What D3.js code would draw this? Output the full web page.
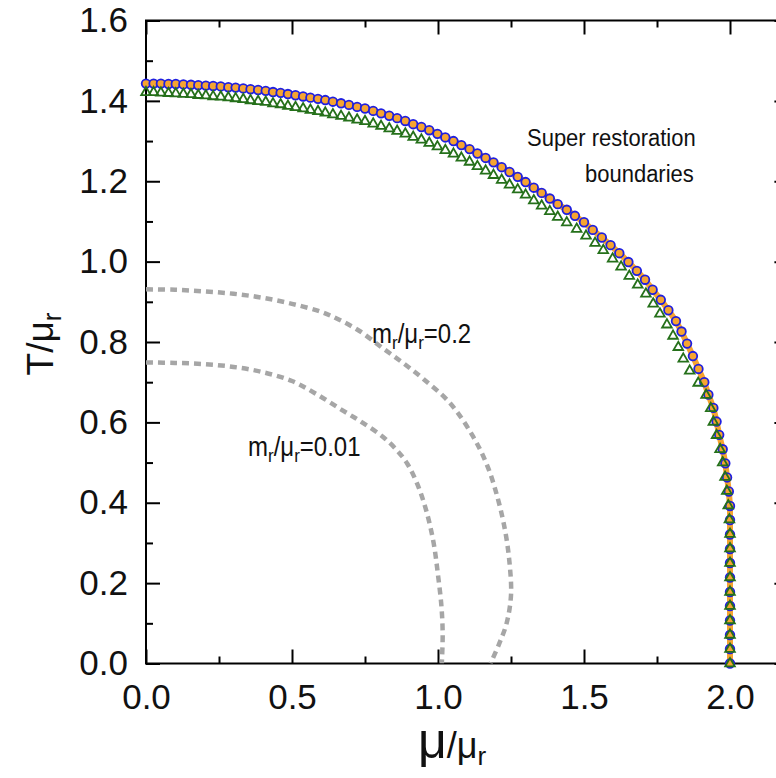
<!DOCTYPE html>
<html>
  <head>
    <script src="https://d3js.org/d3.v7.min.js"></script>
    <style>
      body { margin: 0; background: #fff; }
      svg { display: block; font-family: "Liberation Sans", Arial, sans-serif; }
    </style>
  </head>
  <body>
    <svg id="chart"></svg>
    <script>
      // blue circles (and the orange line through them): [mu/mu_r, T/mu_r]
      var circlePts = [
        [0, 1.443], [0.026, 1.443], [0.051, 1.443], [0.077, 1.442], [0.102, 1.442],
        [0.128, 1.441], [0.154, 1.44], [0.179, 1.439], [0.205, 1.438], [0.23, 1.437],
        [0.256, 1.436], [0.282, 1.434], [0.307, 1.433], [0.333, 1.431], [0.358, 1.429],
        [0.384, 1.427], [0.41, 1.425], [0.435, 1.422], [0.461, 1.42], [0.486, 1.417],
        [0.512, 1.414], [0.538, 1.411], [0.563, 1.408], [0.589, 1.405], [0.614, 1.402],
        [0.64, 1.398], [0.668, 1.394], [0.695, 1.39], [0.723, 1.385], [0.75, 1.381],
        [0.778, 1.375], [0.805, 1.369], [0.833, 1.363], [0.86, 1.357], [0.888, 1.35],
        [0.915, 1.342], [0.943, 1.335], [0.97, 1.327], [0.998, 1.318], [1.025, 1.309],
        [1.053, 1.3], [1.08, 1.29], [1.108, 1.28], [1.135, 1.269], [1.163, 1.258],
        [1.19, 1.247], [1.218, 1.235], [1.245, 1.223], [1.273, 1.211], [1.3, 1.198],
        [1.328, 1.184], [1.355, 1.171], [1.383, 1.157], [1.41, 1.143], [1.441, 1.129],
        [1.469, 1.114], [1.5, 1.098], [1.53, 1.079], [1.561, 1.06], [1.591, 1.041],
        [1.621, 1.021], [1.652, 0.999], [1.681, 0.977], [1.709, 0.955], [1.735, 0.93],
        [1.763, 0.905], [1.789, 0.879], [1.815, 0.852], [1.834, 0.826], [1.853, 0.796],
        [1.873, 0.765], [1.892, 0.733], [1.912, 0.7], [1.926, 0.669], [1.943, 0.636],
        [1.954, 0.602], [1.963, 0.569], [1.975, 0.533], [1.984, 0.498], [1.99, 0.463],
        [1.996, 0.428], [2.0, 0.392], [2.0, 0.357], [2.0, 0.321], [2.0, 0.285],
        [2.0, 0.25], [2.0, 0.214], [2.0, 0.178], [2.0, 0.143], [2.0, 0.107],
        [2.0, 0.071], [2.0, 0.036], [2.0, 0]
      ];

      // green triangles
      var trianglePts = [
        [0, 1.421], [0.026, 1.421], [0.051, 1.42], [0.077, 1.419], [0.102, 1.418],
        [0.128, 1.417], [0.154, 1.416], [0.179, 1.414], [0.205, 1.413], [0.23, 1.411],
        [0.256, 1.41], [0.282, 1.408], [0.307, 1.406], [0.333, 1.404], [0.358, 1.401],
        [0.384, 1.399], [0.41, 1.397], [0.435, 1.393], [0.461, 1.391], [0.486, 1.387],
        [0.512, 1.384], [0.538, 1.381], [0.563, 1.377], [0.589, 1.374], [0.614, 1.37],
        [0.64, 1.366], [0.668, 1.362], [0.695, 1.358], [0.723, 1.353], [0.75, 1.349],
        [0.778, 1.343], [0.805, 1.337], [0.833, 1.331], [0.86, 1.325], [0.888, 1.318],
        [0.915, 1.31], [0.943, 1.303], [0.97, 1.295], [0.998, 1.286], [1.025, 1.277],
        [1.053, 1.268], [1.08, 1.258], [1.108, 1.248], [1.135, 1.237], [1.163, 1.226],
        [1.19, 1.215], [1.218, 1.203], [1.245, 1.191], [1.273, 1.179], [1.3, 1.166],
        [1.328, 1.152], [1.355, 1.139], [1.383, 1.125], [1.41, 1.111], [1.441, 1.097],
        [1.475, 1.081], [1.507, 1.064], [1.538, 1.046], [1.566, 1.028], [1.598, 1.007],
        [1.627, 0.987], [1.655, 0.964], [1.684, 0.942], [1.712, 0.92], [1.737, 0.895],
        [1.76, 0.87], [1.784, 0.843], [1.805, 0.815], [1.823, 0.787], [1.84, 0.758],
        [1.862, 0.728], [1.891, 0.698], [1.918, 0.668], [1.934, 0.635], [1.943, 0.601],
        [1.954, 0.568], [1.966, 0.533], [1.975, 0.5], [1.983, 0.464], [1.989, 0.429],
        [1.994, 0.393], [1.998, 0.358], [2.0, 0.322], [2.0, 0.286], [2.0, 0.25],
        [2.0, 0.214], [2.0, 0.178], [2.0, 0.143], [2.0, 0.107], [2.0, 0.071],
        [2.0, 0.036], [2.0, 0]
      ];

      // grey dotted curves
      var dash02 = [
        [0, 0.931], [0.1, 0.93], [0.2, 0.926], [0.3, 0.92], [0.4, 0.91], [0.5, 0.895],
        [0.6, 0.875], [0.66, 0.856], [0.73, 0.828], [0.81, 0.785], [0.88, 0.748],
        [0.95, 0.708], [1.04, 0.649], [1.12, 0.565], [1.17, 0.49], [1.205, 0.41],
        [1.23, 0.33], [1.245, 0.25], [1.25, 0.17], [1.235, 0.1], [1.21, 0.05], [1.18, 0]
      ];
      var dash001 = [
        [0, 0.749], [0.1, 0.748], [0.2, 0.745], [0.3, 0.738], [0.4, 0.725], [0.5, 0.703],
        [0.58, 0.672], [0.664, 0.634], [0.74, 0.6], [0.813, 0.563], [0.86, 0.53],
        [0.895, 0.497], [0.93, 0.445], [0.96, 0.38], [0.985, 0.3], [1.0, 0.22],
        [1.012, 0.14], [1.016, 0.07], [1.013, 0]
      ];

      var xMajor = [0, 0.5, 1.0, 1.5, 2.0];
      var xMinor = [0.25, 0.75, 1.25, 1.75];
      var yMajor = [0, 0.2, 0.4, 0.6, 0.8, 1.0, 1.2, 1.4, 1.6];
      var yMinor = [0.1, 0.3, 0.5, 0.7, 0.9, 1.1, 1.3, 1.5];

      var W = 776, H = 778;
      var svg = d3.select("#chart").attr("width", W).attr("height", H);

      var x = d3.scaleLinear().domain([0, 2.2]).range([146, 788.4]);
      var y = d3.scaleLinear().domain([0, 1.6]).range([663.5, 20.5]);

      svg.append("clipPath").attr("id", "plot")
        .append("rect")
        .attr("x", x(0)).attr("y", y(1.6))
        .attr("width", x(2.2) - x(0)).attr("height", y(0) - y(1.6));

      // axes, ticks pointing inward on all four sides
      function styleAxis(g) {
        g.select(".domain").remove();
        g.selectAll(".tick line").attr("stroke", "#000").attr("stroke-width", 2);
        g.selectAll(".tick text")
          .attr("fill", "#111")
          .attr("font-size", 35)
          .attr("font-family", "Liberation Sans, Arial, sans-serif");
      }

      svg.append("g")
        .attr("transform", "translate(0," + y(0) + ")")
        .call(d3.axisBottom(x).tickValues(xMajor).tickSize(-14).tickPadding(21)
          .tickFormat(d3.format(".1f")))
        .call(styleAxis);
      svg.append("g")
        .attr("transform", "translate(0," + y(0) + ")")
        .call(d3.axisBottom(x).tickValues(xMinor).tickSize(-7).tickFormat(""))
        .call(styleAxis);
      svg.append("g")
        .attr("transform", "translate(0," + y(1.6) + ")")
        .call(d3.axisTop(x).tickValues(xMajor).tickSize(-14).tickFormat(""))
        .call(styleAxis);
      svg.append("g")
        .attr("transform", "translate(0," + y(1.6) + ")")
        .call(d3.axisTop(x).tickValues(xMinor).tickSize(-7).tickFormat(""))
        .call(styleAxis);

      svg.append("g")
        .attr("transform", "translate(" + x(0) + ",0)")
        .call(d3.axisLeft(y).tickValues(yMajor).tickSize(-14).tickPadding(18)
          .tickFormat(d3.format(".1f")))
        .call(styleAxis);
      svg.append("g")
        .attr("transform", "translate(" + x(0) + ",0)")
        .call(d3.axisLeft(y).tickValues(yMinor).tickSize(-7).tickFormat(""))
        .call(styleAxis);
      svg.append("g")
        .attr("transform", "translate(" + x(2.2) + ",0)")
        .call(d3.axisRight(y).tickValues(yMajor).tickSize(-14).tickFormat(""))
        .call(styleAxis);
      svg.append("g")
        .attr("transform", "translate(" + x(2.2) + ",0)")
        .call(d3.axisRight(y).tickValues(yMinor).tickSize(-7).tickFormat(""))
        .call(styleAxis);

      // frame
      svg.append("rect")
        .attr("x", x(0)).attr("y", y(1.6))
        .attr("width", x(2.2) - x(0)).attr("height", y(0) - y(1.6))
        .attr("fill", "none")
        .attr("stroke", "#000")
        .attr("stroke-width", 2);

      var plot = svg.append("g").attr("clip-path", "url(#plot)");

      var line = d3.line()
        .x(function (d) { return x(d[0]); })
        .y(function (d) { return y(d[1]); });
      var smooth = d3.line()
        .x(function (d) { return x(d[0]); })
        .y(function (d) { return y(d[1]); })
        .curve(d3.curveCatmullRom);

      // grey dotted lines
      [dash02, dash001].forEach(function (pts) {
        plot.append("path")
          .datum(pts)
          .attr("d", smooth)
          .attr("fill", "none")
          .attr("stroke", "#a6a6a6")
          .attr("stroke-width", 4.5)
          .attr("stroke-dasharray", "7,5");
      });

      // orange line
      plot.append("path")
        .datum(circlePts)
        .attr("d", line)
        .attr("fill", "none")
        .attr("stroke", "#f6a431")
        .attr("stroke-width", 6);

      // blue circles (not clipped, like the original)
      svg.append("g").selectAll("circle")
        .data(circlePts)
        .enter()
        .append("circle")
        .attr("cx", function (d) { return x(d[0]); })
        .attr("cy", function (d) { return y(d[1]); })
        .attr("r", 4.3)
        .attr("fill", "#f6a431")
        .attr("stroke", "#1f1fe0")
        .attr("stroke-width", 1.8);

      // green triangles
      var tri = d3.symbol().type(d3.symbolTriangle).size(40);
      svg.append("g").selectAll("path")
        .data(trianglePts)
        .enter()
        .append("path")
        .attr("d", tri)
        .attr("transform", function (d) {
          return "translate(" + x(d[0]) + "," + y(d[1]) + ")";
        })
        .attr("fill", "none")
        .attr("stroke", "#25701a")
        .attr("stroke-width", 1.8);

      // axis titles
      var xt = svg.append("text")
        .attr("x", 452).attr("y", 758)
        .attr("text-anchor", "middle")
        .attr("fill", "#111");
      xt.append("tspan").attr("font-size", 50).text("\u03bc");
      xt.append("tspan").attr("font-size", 36).text("/\u03bc");
      xt.append("tspan").attr("font-size", 26).attr("dy", 7).text("r");

      var yt = svg.append("text")
        .attr("transform", "translate(53,344) rotate(-90)")
        .attr("text-anchor", "middle")
        .attr("fill", "#111")
        .attr("font-size", 37);
      yt.append("tspan").text("T/\u03bc");
      yt.append("tspan").attr("font-size", 26).attr("dy", 8).text("r");

      // annotations (slightly taller glyphs, as in the original)
      function note(px, py, size) {
        return svg.append("text")
          .attr("transform", "translate(" + px + "," + py + ") scale(1,1.12)")
          .attr("font-size", size)
          .attr("fill", "#111");
      }
      note(527, 146, 22).text("Super restoration");
      note(585, 182, 22).text("boundaries");

      function massLabel(px, py, val) {
        var t = note(px, py, 24);
        t.append("tspan").text("m");
        t.append("tspan").attr("font-size", 17).attr("dy", 5).text("r");
        t.append("tspan").attr("dy", -5).text("/\u03bc");
        t.append("tspan").attr("font-size", 17).attr("dy", 5).text("r");
        t.append("tspan").attr("dy", -5).text("=" + val);
      }
      massLabel(372, 343, "0.2");
      massLabel(248, 456, "0.01");
    </script>
  </body>
</html>
